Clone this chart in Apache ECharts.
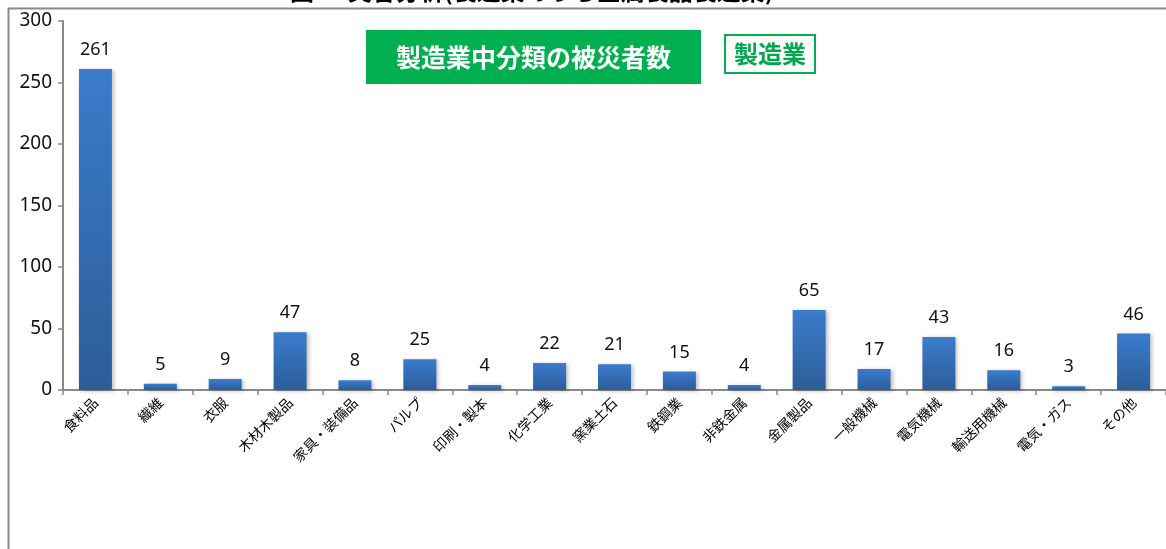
<!DOCTYPE html>
<html><head><meta charset="utf-8">
<script src="https://cdn.jsdelivr.net/npm/echarts@6/dist/echarts.min.js"></script>
<style>html,body{margin:0;padding:0;background:#fff}#c{width:1166px;height:549px}</style>
</head><body><div id="c"></div>
<script>
const categories = ['食料品','繊維','衣服','木材木製品','家具・装備品','パルプ','印刷・製本','化学工業','窯業土石','鉄鋼業','非鉄金属','金属製品','一般機械','電気機械','輸送用機械','電気・ガス','その他'];
const values = [261,5,9,47,8,25,4,22,21,15,4,65,17,43,16,3,46];
const yTicks = [0,50,100,150,200,250,300];
const titleText = '図13 災害分析(製造業のうち金属製品製造業)';
const boxTitle = '製造業中分類の被災者数';
const boxTag = '製造業';

const chart = echarts.init(document.getElementById('c'), null, {renderer:'canvas'});
chart.setOption({
  animation:false,
  backgroundColor:'#fff',
  grid:{left:63,top:21,right:-2,bottom:159,containLabel:false},
  xAxis:{type:'category',data:categories,
    axisLine:{lineStyle:{color:'#888',width:2}},
    axisTick:{show:true,alignWithLabel:false,length:5,lineStyle:{color:'#888',width:1.5}},
    axisLabel:{rotate:45,interval:0,fontSize:14,color:'#000',fontFamily:'Noto Sans CJK JP',margin:10}
  },
  yAxis:{type:'value',min:yTicks[0],max:yTicks[yTicks.length-1],interval:50,
    axisLine:{show:true,lineStyle:{color:'#888',width:2}},
    axisTick:{show:true,length:5,lineStyle:{color:'#888',width:1.5}},
    splitLine:{show:false},
    axisLabel:{fontSize:19,color:'#111',fontFamily:'Noto Sans',margin:11}
  },
  series:[{type:'bar',data:values,barWidth:33,
    itemStyle:{color:new echarts.graphic.LinearGradient(0,0,0,1,[{offset:0,color:'#3b7ccd'},{offset:1,color:'#2c5d98'}]),
      shadowColor:'rgba(0,0,0,0.25)',shadowBlur:4,shadowOffsetX:2,shadowOffsetY:1},
    label:{show:true,position:'top',distance:10,fontSize:18,color:'#111',fontFamily:'Noto Sans'}
  }],
  graphic:[
    {type:'text',left:290,top:-21,style:{text:titleText,font:'bold 24px "Noto Sans CJK JP"',fill:'#000'},z:-1},
    {type:'rect',shape:{x:0,y:9,width:1166,height:2},style:{fill:'#fff'},z:0},
    {type:'line',shape:{x1:8,y1:8.5,x2:1166,y2:8.5},style:{stroke:'#8a8a8a',lineWidth:2},z:1},
    {type:'line',shape:{x1:8.5,y1:8,x2:8.5,y2:549},style:{stroke:'#8a8a8a',lineWidth:2},z:1},
    {type:'rect',shape:{x:366,y:30,width:335,height:54},style:{fill:'#00b050'}},
    {type:'text',x:533.5,y:57,style:{text:boxTitle,font:'bold 25px "Noto Sans CJK JP"',fill:'#fff',textAlign:'center',textVerticalAlign:'middle'}},
    {type:'rect',shape:{x:725,y:35,width:90,height:38},style:{fill:'#fff',stroke:'#00b050',lineWidth:2}},
    {type:'text',x:770,y:54,style:{text:boxTag,font:'bold 24px "Noto Sans CJK JP"',fill:'#00a94f',textAlign:'center',textVerticalAlign:'middle'}}
  ]
});
</script></body></html>
